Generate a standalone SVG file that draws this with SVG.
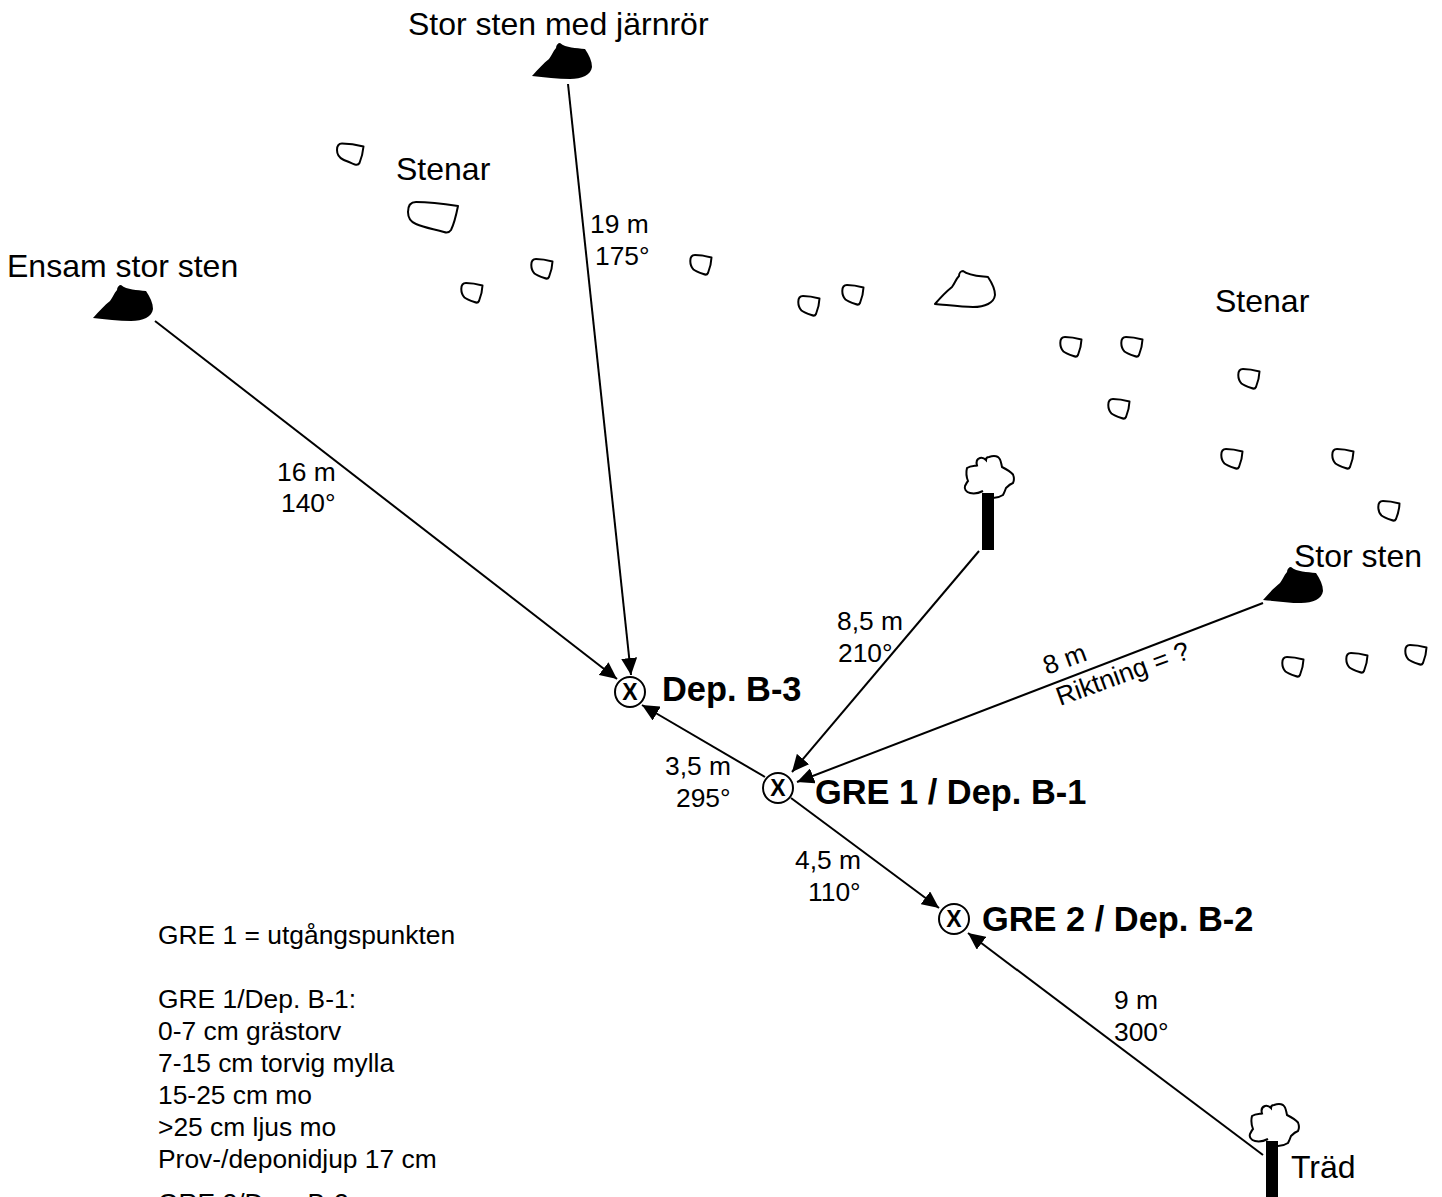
<svg xmlns="http://www.w3.org/2000/svg" xmlns:xlink="http://www.w3.org/1999/xlink" width="1442" height="1197" viewBox="0 0 1442 1197">
<style>
text{font-family:"Liberation Sans",Arial,sans-serif;fill:#000}
.lg{font-size:32px}
.sm{font-size:26.4px}
.b{font-size:34.4px;font-weight:bold}
.x{font-size:23px;font-weight:bold;text-anchor:middle}
.ln{stroke:#000;stroke-width:2;fill:none}
.st{fill:#fff;stroke:#000;stroke-width:2;stroke-linejoin:round}
.pt{fill:#fff;stroke:#000;stroke-width:2}
</style>
<defs>
<marker id="ah" markerUnits="userSpaceOnUse" markerWidth="18" markerHeight="16" refX="17" refY="8" orient="auto"><path d="M0,0L17,8L0,16Z" fill="#000"/></marker>
<path id="small" d="M.3,6C.3,2 2,0 5,0C11,0 16,1 21.5,2.500C21.300,8 20,13 18,18C17,20 15.500,20 13.500,19C9,17.500 6,16.500 3.500,14.500C1.500,12.500 .3,10 .3,6Z"/>
<path id="rock" d="M0,33C6,26 12,20 17,16C20,12 21,8 24,5C24,2 26,0 28,0C34,5 44,5 53,6C57,12 60,18 60,24C59,32 50,36 38,36C26,36 12,34 0,33Z"/>
<path id="crown" d="M18,37C14,39 9,40 5,39C1,38 -1,35 0,32C1,30 2,28 3,27C1,22 1,18 2,14C5,12 9,12 12,11.500C11,8 12,5 15,4C18,3 20,5 21,6C21,4 22,3 24,3C27,2 31,2 33,3C36,5 36,9 37,13C41,15 45,17 48,20.500C49,23 49,27 48,29C45,30 43,32 41,34C40,37 39,39 38,41C35,43 32,44 28,44"/>
</defs>
<g id="connectors" class="ln">
<line x1="155" y1="321" x2="617" y2="679" marker-end="url(#ah)"/>
<line x1="568" y1="84" x2="631" y2="675" marker-end="url(#ah)"/>
<line x1="765" y1="777" x2="642" y2="705" marker-end="url(#ah)"/>
<line x1="979" y1="551" x2="792" y2="772" marker-end="url(#ah)"/>
<line x1="1263" y1="603" x2="797" y2="782" marker-end="url(#ah)"/>
<line x1="791" y1="798" x2="939" y2="908" marker-end="url(#ah)"/>
<line x1="1263" y1="1155" x2="968" y2="933" marker-end="url(#ah)"/>
</g>
<g id="stones" class="st">
<path d="M337,150C337,146 339,143.500 342,143.500C349,143.500 356,144.500 363.500,146.500C363,152 361.500,158 359.500,163C358.500,165 357,165 355,164.500C350,162.500 346,161 343,159.500C339,157.500 337,154 337,150Z"/>
<use xlink:href="#small" href="#small" x="531" y="259"/>
<use xlink:href="#small" href="#small" x="461" y="283"/>
<use xlink:href="#small" href="#small" x="690" y="255"/>
<use xlink:href="#small" href="#small" x="798" y="296"/>
<use xlink:href="#small" href="#small" x="842" y="285"/>
<use xlink:href="#small" href="#small" x="1060" y="337"/>
<use xlink:href="#small" href="#small" x="1121" y="337"/>
<use xlink:href="#small" href="#small" x="1238" y="369"/>
<use xlink:href="#small" href="#small" x="1108" y="399"/>
<use xlink:href="#small" href="#small" x="1221" y="449"/>
<use xlink:href="#small" href="#small" x="1332" y="449"/>
<use xlink:href="#small" href="#small" x="1378" y="501"/>
<use xlink:href="#small" href="#small" x="1282" y="657"/>
<use xlink:href="#small" href="#small" x="1346" y="653"/>
<use xlink:href="#small" href="#small" x="1405" y="645"/>
<path d="M408,212C408,205 411,202 416,202C430,202 445,204 458,206C456,216 454,224 451,230C449,233 447,233 444,232C434,229 425,228 416,224C411,222 408,218 408,212Z"/>
<use xlink:href="#rock" href="#rock" x="935" y="271"/>
</g>
<g id="rock-jarnror"><use xlink:href="#rock" href="#rock" x="532" y="43"/><text class="lg" x="408" y="35">Stor sten med järnrör</text></g>
<g id="rock-ensam"><use xlink:href="#rock" href="#rock" x="93" y="285"/><text class="lg" x="7" y="277">Ensam stor sten</text></g>
<g id="rock-stor"><use xlink:href="#rock" href="#rock" x="1263" y="567"/><text class="lg" x="1294" y="567">Stor sten</text></g>
<g id="label-stenar-1"><text class="lg" x="396" y="180">Stenar</text></g>
<g id="label-stenar-2"><text class="lg" x="1215" y="312">Stenar</text></g>
<g id="tree-1"><rect x="982" y="493" width="12" height="57"/><use xlink:href="#crown" href="#crown" class="ln" x="965" y="454"/></g>
<g id="tree-2"><rect x="1266" y="1141" width="12" height="56"/><use xlink:href="#crown" href="#crown" class="ln" x="1250" y="1102"/><text class="lg" x="1291" y="1178">Träd</text></g>
<g id="dep-b3"><circle class="pt" cx="630" cy="692" r="15"/><text class="x" x="630" y="700">X</text><text class="b" x="662" y="701">Dep. B-3</text></g>
<g id="gre-1"><circle class="pt" cx="778" cy="788" r="15"/><text class="x" x="778" y="796">X</text><text class="b" x="815" y="804">GRE 1 / Dep. B-1</text></g>
<g id="gre-2"><circle class="pt" cx="954" cy="919" r="15"/><text class="x" x="954" y="927">X</text><text class="b" x="982" y="931">GRE 2 / Dep. B-2</text></g>
<g id="edge-labels" class="sm">
<text x="590" y="233">19 m</text><text x="595" y="265">175°</text>
<text x="277" y="481">16 m</text><text x="281" y="512">140°</text>
<text x="837" y="630">8,5 m</text><text x="838" y="662">210°</text>
<text x="665" y="775">3,5 m</text><text x="676" y="807">295°</text>
<text x="795" y="869">4,5 m</text><text x="808" y="901">110°</text>
<text x="1114" y="1009">9 m</text><text x="1114" y="1041">300°</text>
<text transform="translate(1047,675) rotate(-20)">8 m</text>
<text transform="translate(1060,706) rotate(-20)">Riktning = ?</text>
</g>
<g id="notes" class="sm">
<text x="158" y="944">GRE 1 = utgångspunkten</text>
<text x="158" y="1008">GRE 1/Dep. B-1:</text>
<text x="158" y="1040">0-7 cm grästorv</text>
<text x="158" y="1072">7-15 cm torvig mylla</text>
<text x="158" y="1104">15-25 cm mo</text>
<text x="158" y="1136">&gt;25 cm ljus mo</text>
<text x="158" y="1168">Prov-/deponidjup 17 cm</text>
<text x="158" y="1212">GRE 2/Dep. B-2:</text>
</g>
</svg>
